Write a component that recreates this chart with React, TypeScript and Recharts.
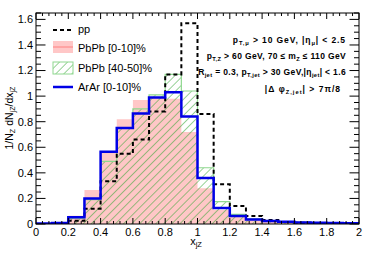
import { ComposedChart, Area, Line, XAxis, YAxis } from 'recharts';

// bin low edges (width 0.1) plus the last upper edge
const binEdges = [0, 0.1, 0.2, 0.3, 0.4, 0.5, 0.6, 0.7, 0.8, 0.9, 1.0, 1.1, 1.2, 1.3, 1.4, 1.5, 1.6, 1.7, 1.8, 1.9, 2.0];

const ppValues = [0, 0.004, 0.026, 0.12, 0.335, 0.55, 0.66, 0.88, 1.17, 1.57, 0.86, 0.31, 0.14, 0.062, 0.032, 0.015, 0.01, 0.006, 0.004, 0.003];
const pbpbCentral = [0.002, 0.01, 0.065, 0.265, 0.56, 0.82, 0.97, 0.99, 0.98, 0.72, 0.28, 0.11, 0.055, 0.03, 0.02, 0.015, 0.01, 0.008, 0.006, 0.004];
const pbpbPeripheral = [0.002, 0.008, 0.045, 0.19, 0.49, 0.75, 0.9, 1.01, 1.17, 1.04, 0.44, 0.175, 0.075, 0.04, 0.025, 0.018, 0.012, 0.009, 0.007, 0.005];
const arArValues = [0.003, 0.008, 0.052, 0.2, 0.565, 0.75, 0.865, 0.99, 1.03, 0.84, 0.36, 0.125, 0.062, 0.036, 0.023, 0.018, 0.012, 0.009, 0.007, 0.005];

const xTicks = [0, 0.2, 0.4, 0.6, 0.8, 1, 1.2, 1.4, 1.6, 1.8, 2];
const yTicks = [0, 0.2, 0.4, 0.6, 0.8, 1, 1.2, 1.4, 1.6];

// step data: each row holds the value of the bin starting at x
const data = binEdges.map((x, i) => {
  const k = Math.min(i, ppValues.length - 1);
  return {
    x,
    pp: ppValues[k],
    pbpb010: pbpbCentral[k],
    pbpb4050: pbpbPeripheral[k],
    arar: arArValues[k],
  };
});

const W = 374;
const H = 255;
const LEFT = 36;
const RIGHT = 359;
const TOP = 13;
const BOTTOM = 224;
const X_MAX = 2;
const Y_MAX = 1.65;
const FONT = '"Liberation Sans", Arial, Helvetica, sans-serif';

const px = (v: number) => LEFT + (v / X_MAX) * (RIGHT - LEFT);
const py = (v: number) => BOTTOM - (v / Y_MAX) * (BOTTOM - TOP);

function Frame() {
  const marks: JSX.Element[] = [];
  for (let i = 0; i <= 50; i++) {
    const v = i * 0.04;
    const len = i % 5 === 0 ? 6 : 3;
    const x = px(v);
    marks.push(<line key={`xb${i}`} x1={x} x2={x} y1={BOTTOM} y2={BOTTOM - len} />);
    marks.push(<line key={`xt${i}`} x1={x} x2={x} y1={TOP} y2={TOP + len} />);
  }
  for (let i = 0; i * 0.05 <= Y_MAX + 1e-9; i++) {
    const v = i * 0.05;
    const len = i % 4 === 0 ? 9.5 : 5;
    const y = py(v);
    marks.push(<line key={`yl${i}`} x1={LEFT} x2={LEFT + len} y1={y} y2={y} />);
    marks.push(<line key={`yr${i}`} x1={RIGHT} x2={RIGHT - len} y1={y} y2={y} />);
  }
  return (
    <g stroke="#000" strokeWidth={1} fill="none">
      <rect x={LEFT} y={TOP} width={RIGHT - LEFT} height={BOTTOM - TOP} />
      {marks}
    </g>
  );
}

function Sub({ children }: { children: string }) {
  return (
    <tspan fontSize="0.68em" dy={2}>
      {children}
    </tspan>
  );
}

function Up({ children }: { children: string }) {
  return <tspan dy={-2}>{children}</tspan>;
}

function Overlay() {
  return (
    <svg
      width={W}
      height={H}
      style={{ position: 'absolute', left: 0, top: 0, pointerEvents: 'none' }}
      fontFamily={FONT}
    >
      <Frame />

      {/* legend */}
      <line x1={53} x2={73} y1={30} y2={30} stroke="#000" strokeWidth={2} strokeDasharray="4 3" />
      <text x={78} y={33} fontSize={11}>pp</text>
      <rect x={53} y={41} width={20} height={12} fill="#ff0000" fillOpacity={0.22} />
      <line x1={53} x2={73} y1={47} y2={47} stroke="#ff8080" strokeWidth={1} />
      <text x={78} y={52} fontSize={11}>PbPb [0-10]%</text>
      <rect x={53} y={62} width={20} height={12} fill="url(#hatch)" stroke="#8fd88f" strokeWidth={1} />
      <text x={78} y={72} fontSize={11}>PbPb [40-50]%</text>
      <line x1={53} x2={73} y1={87} y2={87} stroke="#0000e6" strokeWidth={2.5} />
      <text x={78} y={91} fontSize={11}>ArAr [0-10]%</text>

      {/* cuts */}
      <g fontSize={8.5} fontWeight="bold" textAnchor="end" letterSpacing={0.35}>
        <text x={346} y={43} letterSpacing={0.9}>
          p<Sub>T,μ</Sub>
          <Up>{' > 10 GeV, |η'}</Up>
          <Sub>μ</Sub>
          <Up>{'| < 2.5'}</Up>
        </text>
        <text x={346} y={59}>
          p<Sub>T,Z</Sub>
          <Up>{' > 60 GeV, 70 ≤ m'}</Up>
          <Sub>Z</Sub>
          <Up>{' ≤  110 GeV'}</Up>
        </text>
        <text x={346} y={75}>
          R<Sub>jet</Sub>
          <Up>{' = 0.3, p'}</Up>
          <Sub>T,jet</Sub>
          <Up>{' > 30 GeV,|η'}</Up>
          <Sub>jet</Sub>
          <Up>{'| < 1.6'}</Up>
        </text>
        <text x={341} y={92} letterSpacing={1}>
          {'|Δ  φ'}
          <Sub>Z,jet</Sub>
          <Up>{'| > 7π/8'}</Up>
        </text>
      </g>

      {/* axis titles */}
      <text x={196} y={245} fontSize={11} textAnchor="middle">
        x<Sub>jZ</Sub>
      </text>
      <text x={13} y={118} fontSize={10.5} textAnchor="middle" transform="rotate(-90 13 118)">
        1/N<Sub>Z</Sub>
        <Up>{' dN'}</Up>
        <Sub>jZ</Sub>
        <Up>/dx</Up>
        <Sub>jZ</Sub>
      </text>
    </svg>
  );
}

export default function App() {
  return (
    <div style={{ position: 'absolute', left: 0, top: 0, width: W, height: H, background: '#fff' }}>
      <svg width={0} height={0} style={{ position: 'absolute' }}>
        <defs>
          <pattern id="hatch" width={5.7} height={5.7} patternUnits="userSpaceOnUse" patternTransform="rotate(45)">
            <line x1={0} y1={0} x2={0} y2={5.7} stroke="#2fa52f" strokeWidth={1} />
          </pattern>
        </defs>
      </svg>
      <ComposedChart
        width={W}
        height={H}
        data={data}
        margin={{ top: TOP, right: W - RIGHT, bottom: 0, left: 0 }}
      >
        <XAxis
          dataKey="x"
          type="number"
          domain={[0, X_MAX]}
          ticks={xTicks}
          allowDataOverflow
          axisLine={false}
          tickLine={false}
          tickSize={0}
          tickMargin={4}
          height={H - BOTTOM}
          tick={{ fontSize: 11, fill: '#000', fontFamily: FONT }}
        />
        <YAxis
          type="number"
          domain={[0, Y_MAX]}
          ticks={yTicks}
          allowDataOverflow
          axisLine={false}
          tickLine={false}
          tickSize={0}
          tickMargin={3}
          width={LEFT}
          tick={{ fontSize: 11, fill: '#000', fontFamily: FONT }}
        />
        <Line
          dataKey="pp"
          type="stepAfter"
          stroke="#000"
          strokeWidth={2}
          strokeDasharray="4 3"
          dot={false}
          isAnimationActive={false}
        />
        <Area
          dataKey="pbpb010"
          type="stepAfter"
          fill="#ff0000"
          fillOpacity={0.22}
          stroke="none"
          isAnimationActive={false}
        />
        <Area
          dataKey="pbpb4050"
          type="stepAfter"
          fill="url(#hatch)"
          fillOpacity={1}
          stroke="#8fd88f"
          strokeWidth={1.2}
          isAnimationActive={false}
        />
        <Line
          dataKey="arar"
          type="stepAfter"
          stroke="#0000e6"
          strokeWidth={2.5}
          dot={false}
          isAnimationActive={false}
        />
      </ComposedChart>
      <Overlay />
    </div>
  );
}
